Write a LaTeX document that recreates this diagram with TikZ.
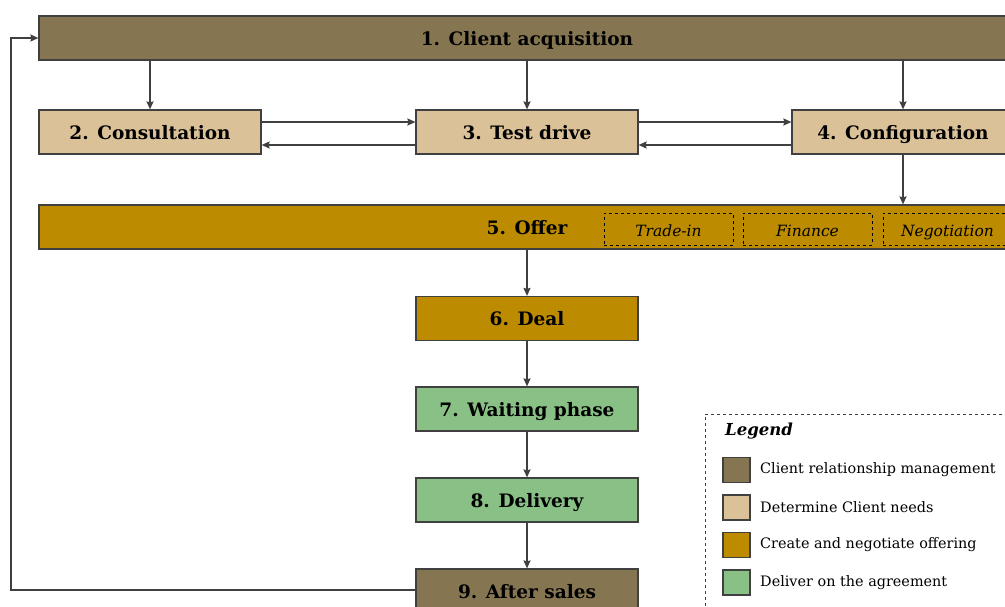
\documentclass[tikz,border=0pt]{standalone}
\usepackage{fontspec}
\setmainfont{DejaVu Serif}
\usetikzlibrary{arrows.meta,calc}
\definecolor{crm}{HTML}{857651}
\definecolor{needs}{HTML}{DBC198}
\definecolor{offer}{HTML}{BC8B00}
\definecolor{deliver}{HTML}{88C085}
\definecolor{edge}{HTML}{404040}
\begin{document}
\begin{tikzpicture}[x=1pt,y=-1pt,
  stepbox/.style={draw=edge, line width=1.2pt, minimum height=44pt, minimum width=222pt, inner sep=0pt,
    text height=14pt, text depth=0pt,
    font=\fontsize{18.5}{22}\selectfont\bfseries, text=black},
  subbox/.style={draw=black, dashed, line width=1pt, minimum height=32pt, minimum width=129pt, inner sep=0pt,
    text height=14pt, text depth=0pt,
    font=\fontsize{15.5}{18}\selectfont\itshape},
  arr/.style={draw=edge, line width=1.6pt, -{Stealth[length=8pt,width=7pt,inset=1pt]}},
  swatch/.style={draw=edge, line width=1.2pt, minimum width=27pt, minimum height=25pt, inner sep=0pt},
  legtext/.style={anchor=west, inner sep=0pt, font=\fontsize{14.4}{16}\selectfont}
]
\useasboundingbox (0,0) rectangle (1005,606);
% main boxes
\node[stepbox, fill=crm, minimum width=976pt] (b1) at (527,38) {1. Client acquisition};
\node[stepbox, fill=needs] (b2) at (150,132) {2. Consultation};
\node[stepbox, fill=needs] (b3) at (527,132) {3. Test drive};
\node[stepbox, fill=needs] (b4) at (903,132) {4. Configuration};
\node[stepbox, fill=offer, minimum width=976pt] (b5) at (527,227) {5. Offer};
\node[subbox] (s1) at (668.5,229) {Trade-in};
\node[subbox] (s2) at (807.5,229) {Finance};
\node[subbox] (s3) at (947.5,229) {Negotiation};
\node[stepbox, fill=offer] (b6) at (527,318.5) {6. Deal};
\node[stepbox, fill=deliver] (b7) at (527,409) {7. Waiting phase};
\node[stepbox, fill=deliver] (b8) at (527,500) {8. Delivery};
\node[stepbox, fill=crm] (b9) at (527,591) {9. After sales};
% connectors
\draw[arr] (b1.south -| b2) -- (b2.north);
\draw[arr] (b1.south -| b3) -- (b3.north);
\draw[arr] (b1.south -| b4) -- (b4.north);
\draw[arr] (b2.east |- 0,122) -- (b3.west |- 0,122);
\draw[arr] (b3.west |- 0,145) -- (b2.east |- 0,145);
\draw[arr] (b3.east |- 0,122) -- (b4.west |- 0,122);
\draw[arr] (b4.west |- 0,145) -- (b3.east |- 0,145);
\draw[arr] (b4.south) -- (b4.south |- b5.north);
\draw[arr] (b5.south -| b6) -- (b6.north);
\draw[arr] (b6) -- (b7);
\draw[arr] (b7) -- (b8);
\draw[arr] (b8) -- (b9);
\coordinate (fb1) at (11,590);
\coordinate (fb2) at (11,38);
\draw[arr] (b9.west |- fb1) -- (fb1) -- (fb2) -- (b1.west);
% legend
\draw[draw=edge, dashed, line width=1pt] (1020,414) -- (705,414) -- (705,620);
\node[anchor=west, inner sep=0pt, font=\fontsize{16.5}{18}\selectfont\bfseries\itshape] (lt) at (725,431) {Legend};
\node[swatch, fill=crm] (l1) at (736.5,470) {};
\node[swatch, fill=needs] (l2) at (736.5,507.5) {};
\node[swatch, fill=offer] (l3) at (736.5,545) {};
\node[swatch, fill=deliver] (l4) at (736.5,582.5) {};
\node[legtext] (t1) at (760,470) {Client relationship management};
\node[legtext] (t2) at (760,507.5) {Determine Client needs};
\node[legtext] (t3) at (760,545) {Create and negotiate offering};
\node[legtext] (t4) at (760,582.5) {Deliver on the agreement};
\end{tikzpicture}
\end{document}
